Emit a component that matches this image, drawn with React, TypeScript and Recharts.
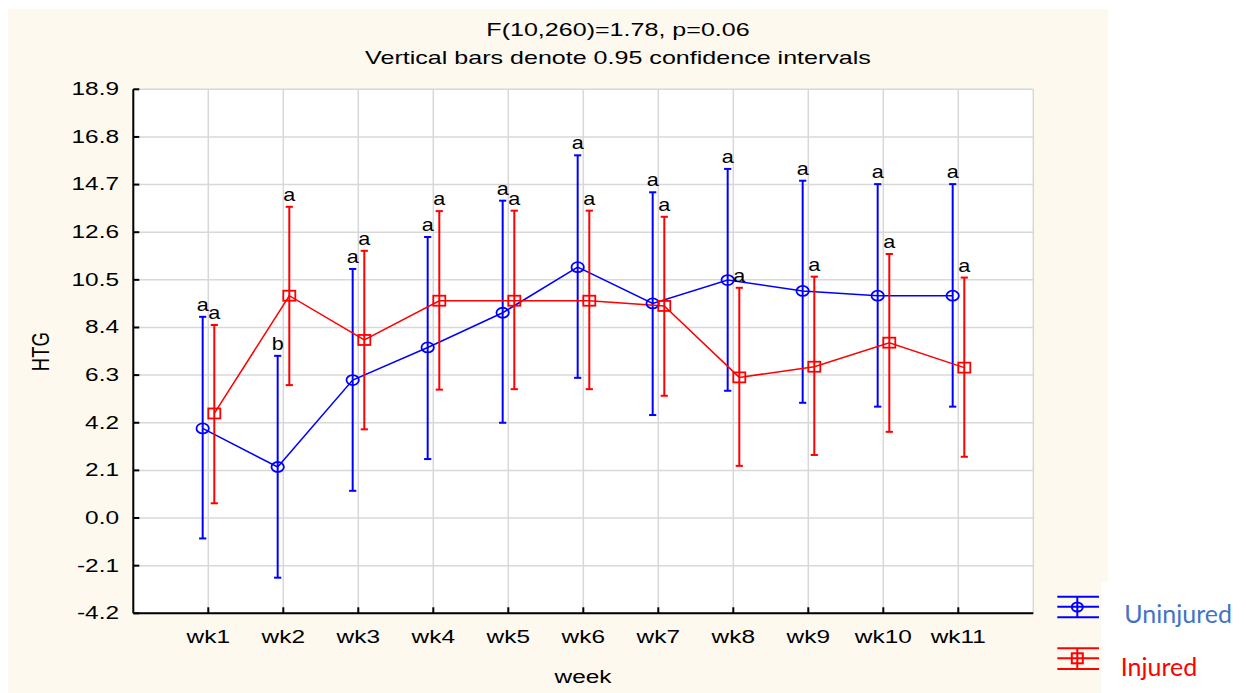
import React from 'react';
import { ComposedChart, Line, Scatter, XAxis, YAxis, CartesianGrid, ErrorBar } from 'recharts';

// ---------- data ----------
const weeks = ['wk1', 'wk2', 'wk3', 'wk4', 'wk5', 'wk6', 'wk7', 'wk8', 'wk9', 'wk10', 'wk11'];
const weekIndex = [1, 2, 3, 4, 5, 6, 7, 8, 9, 10, 11];

const uninjuredMean = [3.95, 2.25, 6.08, 7.52, 9.05, 11.06, 9.46, 10.49, 10.01, 9.8, 9.8];
const uninjuredLow = [-0.9, -2.63, 1.2, 2.6, 4.2, 6.18, 4.54, 5.61, 5.08, 4.91, 4.91];
const uninjuredHigh = [8.87, 7.15, 10.98, 12.39, 13.99, 15.99, 14.36, 15.39, 14.87, 14.72, 14.72];
const uninjuredLetters = ['a', 'b', 'a', 'a', 'a', 'a', 'a', 'a', 'a', 'a', 'a'];

const injuredMean = [4.61, 9.8, 7.85, 9.58, 9.58, 9.58, 9.35, 6.2, 6.67, 7.73, 6.63];
const injuredLow = [0.65, 5.86, 3.91, 5.66, 5.68, 5.68, 5.39, 2.3, 2.78, 3.8, 2.7];
const injuredHigh = [8.51, 13.72, 11.78, 13.53, 13.55, 13.55, 13.28, 10.15, 10.64, 11.64, 10.6];
const injuredLetters = ['a', 'a', 'a', 'a', 'a', 'a', 'a', 'a', 'a', 'a', 'a'];

const yTicks = [-4.2, -2.1, 0.0, 2.1, 4.2, 6.3, 8.4, 10.5, 12.6, 14.7, 16.8, 18.9];

const titleLine1 = 'F(10,260)=1.78, p=0.06';
const titleLine2 = 'Vertical bars denote 0.95 confidence intervals';
const xLabel = 'week';
const yLabel = 'HTG';
const seriesNames = ['Uninjured', 'Injured'];

// ---------- styling ----------
const FONT = "'Liberation Sans', Arial, sans-serif";
const BLUE = '#0000ff';
const RED = '#ff0000';
const STRETCH = 1.32;
const SHIFT_UNINJURED = -0.075;
const SHIFT_INJURED = 0.08;

function buildRows(mean: number[], low: number[], high: number[], letters: string[], shift: number) {
  return mean.map((m, i) => ({
    x: weekIndex[i] + shift,
    y: m,
    err: [m - low[i], high[i] - m],
    top: high[i],
    letter: letters[i],
  }));
}

const uninjuredRows = buildRows(uninjuredMean, uninjuredLow, uninjuredHigh, uninjuredLetters, SHIFT_UNINJURED);
const injuredRows = buildRows(injuredMean, injuredLow, injuredHigh, injuredLetters, SHIFT_INJURED);
const letterRows = [...uninjuredRows, ...injuredRows].map((r) => ({ x: r.x, y: r.top, letter: r.letter }));

const XTick = (props: any) => {
  const { x, y, payload } = props;
  return (
    <text
      transform={`translate(${x},${y}) scale(${STRETCH},1)`}
      textAnchor="middle"
      fontFamily={FONT}
      fontSize={18.5}
      fill="#000"
    >
      {weeks[payload.value - 1]}
    </text>
  );
};

const YTick = (props: any) => {
  const { x, y, payload } = props;
  return (
    <text
      transform={`translate(${x},${y}) scale(${STRETCH},1)`}
      textAnchor="end"
      dy="0.32em"
      fontFamily={FONT}
      fontSize={18.5}
      fill="#000"
    >
      {Number(payload.value).toFixed(1)}
    </text>
  );
};

const EmptyTick = () => <g />;

const CircleDot = (props: any) => (
  <ellipse
    key={`c${props.index}`}
    cx={props.cx}
    cy={props.cy}
    rx={6.2}
    ry={5}
    fill="none"
    stroke={BLUE}
    strokeWidth={1.8}
  />
);

const SquareDot = (props: any) => (
  <rect
    key={`s${props.index}`}
    x={props.cx - 6}
    y={props.cy - 5}
    width={12}
    height={10}
    fill="none"
    stroke={RED}
    strokeWidth={1.8}
  />
);

const LetterShape = (props: any) => (
  <text
    transform={`translate(${props.cx},${props.cy - 6}) scale(1.2,1)`}
    textAnchor="middle"
    fontFamily={FONT}
    fontSize={18}
    fill="#000"
  >
    {props.payload && props.payload.letter}
  </text>
);

export default function App() {
  return (
    <div style={{ position: 'relative', width: 1230, height: 685 }}>
      <div style={{ position: 'absolute', left: -1, top: 1, width: 1101, height: 684, background: '#fdf9ef' }} />
      <div style={{ position: 'absolute', left: 1093, top: 574, width: 137, height: 111, background: '#ffffff' }} />
      <div style={{ position: 'absolute', left: 0, top: 0 }}>
        <ComposedChart width={1100} height={685} margin={{ top: 81.3, right: 74.7, bottom: 19.7, left: 0 }}>
          <CartesianGrid stroke="#d8d8d8" strokeWidth={1.5} fill="#ffffff" fillOpacity={1} />
          <XAxis
            dataKey="x"
            type="number"
            domain={[0, 12]}
            ticks={weekIndex}
            interval={0}
            allowDataOverflow
            height={60}
            tickSize={-6}
            tickMargin={36}
            tick={<XTick />}
            axisLine={{ stroke: '#000', strokeWidth: 2 }}
            tickLine={{ stroke: '#000', strokeWidth: 2 }}
          />
          <XAxis
            xAxisId="top"
            orientation="top"
            dataKey="x"
            type="number"
            domain={[0, 12]}
            ticks={weekIndex}
            interval={0}
            allowDataOverflow
            height={0}
            tickSize={-6}
            tick={EmptyTick}
            axisLine={{ stroke: '#000', strokeWidth: 2 }}
            tickLine={{ stroke: '#000', strokeWidth: 2 }}
          />
          <YAxis
            type="number"
            domain={[-4.2, 18.9]}
            ticks={yTicks}
            interval={0}
            allowDataOverflow
            width={125.3}
            tickSize={-6}
            tickMargin={20.3}
            tick={<YTick />}
            axisLine={{ stroke: '#000', strokeWidth: 2 }}
            tickLine={{ stroke: '#000', strokeWidth: 2 }}
          />
          <YAxis
            yAxisId="right"
            orientation="right"
            type="number"
            domain={[-4.2, 18.9]}
            ticks={yTicks}
            interval={0}
            allowDataOverflow
            width={0}
            tickSize={-6}
            tick={EmptyTick}
            axisLine={{ stroke: '#000', strokeWidth: 2 }}
            tickLine={{ stroke: '#000', strokeWidth: 2 }}
          />
          <Line
            data={uninjuredRows}
            dataKey="y"
            name={seriesNames[0]}
            type="linear"
            stroke={BLUE}
            strokeWidth={1.5}
            dot={CircleDot}
            activeDot={false}
            isAnimationActive={false}
          >
            <ErrorBar dataKey="err" direction="y" width={3.6} stroke={BLUE} strokeWidth={2} />
          </Line>
          <Line
            data={injuredRows}
            dataKey="y"
            name={seriesNames[1]}
            type="linear"
            stroke={RED}
            strokeWidth={1.5}
            dot={SquareDot}
            activeDot={false}
            isAnimationActive={false}
          >
            <ErrorBar dataKey="err" direction="y" width={3.6} stroke={RED} strokeWidth={2} />
          </Line>
          <Scatter data={letterRows} dataKey="y" shape={LetterShape} isAnimationActive={false} />
        </ComposedChart>
      </div>
      <svg
        width={1230}
        height={685}
        style={{ position: 'absolute', left: 0, top: 0, pointerEvents: 'none' }}
      >
        <text
          transform={`translate(610,28) scale(${STRETCH},1)`}
          textAnchor="middle"
          fontFamily={FONT}
          fontSize={19}
          fill="#000"
        >
          {titleLine1}
        </text>
        <text
          transform={`translate(610,56) scale(${STRETCH},1)`}
          textAnchor="middle"
          fontFamily={FONT}
          fontSize={19}
          fill="#000"
        >
          {titleLine2}
        </text>
        <text
          transform={`translate(32,343.7) scale(${STRETCH},1) rotate(-90)`}
          textAnchor="middle"
          dy="0.36em"
          fontFamily={FONT}
          fontSize={18.5}
          fill="#000"
        >
          {yLabel}
        </text>
        <text
          transform={`translate(575,675) scale(${STRETCH},1)`}
          textAnchor="middle"
          fontFamily={FONT}
          fontSize={18.5}
          fill="#000"
        >
          {xLabel}
        </text>
        {/* legend: uninjured */}
        <g stroke={BLUE} strokeWidth={2} fill="none">
          <line x1={1049.3} x2={1091} y1={588.7} y2={588.7} />
          <line x1={1049.3} x2={1091} y1={598.7} y2={598.7} />
          <line x1={1049.3} x2={1091} y1={609.3} y2={609.3} />
          <line x1={1069.3} x2={1069.3} y1={588.7} y2={609.3} />
          <ellipse cx={1069.3} cy={599} rx={5.5} ry={4.5} />
        </g>
        <text x={1116.3} y={615.3} fontFamily="Lato, 'Noto Sans', sans-serif" fontSize={25} fill="#4472c4">
          {seriesNames[0]}
        </text>
        {/* legend: injured */}
        <g stroke={RED} strokeWidth={2} fill="none">
          <line x1={1049.3} x2={1091} y1={640.3} y2={640.3} />
          <line x1={1049.3} x2={1091} y1={650.3} y2={650.3} />
          <line x1={1049.3} x2={1091} y1={661} y2={661} />
          <line x1={1069.3} x2={1069.3} y1={640.3} y2={661} />
          <rect x={1063.8} y={645.3} width={11} height={10} />
        </g>
        <text x={1112.7} y={668} fontFamily="Lato, 'Noto Sans', sans-serif" fontSize={25} fill={RED}>
          {seriesNames[1]}
        </text>
      </svg>
    </div>
  );
}
